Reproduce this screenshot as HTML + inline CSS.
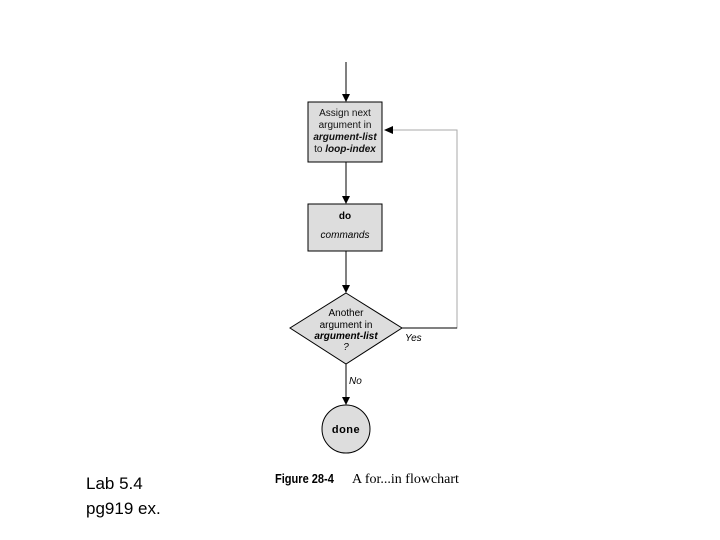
<!DOCTYPE html>
<html><head><style>
body{margin:0;width:720px;height:540px;background:#fff;overflow:hidden;position:relative;font-family:"Liberation Sans",sans-serif}
</style></head><body>
<svg width="720" height="540" style="position:absolute;left:0;top:0" font-family="Liberation Sans, sans-serif">
<defs><marker id="a" markerWidth="8" markerHeight="8" refX="7" refY="4" orient="auto" markerUnits="userSpaceOnUse"><path d="M0,0 L8,4 L0,8 z" fill="#000"/></marker></defs>
<line x1="346" y1="62" x2="346" y2="101" stroke="#000" marker-end="url(#a)"/>
<rect x="308" y="102" width="74" height="60" fill="#ddd" stroke="#000"/>
<text font-size="10" text-anchor="middle" fill="#111"><tspan x="345" y="116">Assign next</tspan><tspan x="345" y="128">argument in</tspan><tspan x="345" y="140" font-style="italic" font-weight="bold">argument-list</tspan><tspan x="345" y="152">to <tspan font-style="italic" font-weight="bold">loop-index</tspan></tspan></text>
<line x1="346" y1="162" x2="346" y2="203" stroke="#000" marker-end="url(#a)"/>
<rect x="308" y="204" width="74" height="47" fill="#ddd" stroke="#000"/>
<text x="345" y="219" font-size="10" font-weight="bold" text-anchor="middle">do</text>
<text x="345" y="238" font-size="10" font-style="italic" text-anchor="middle">commands</text>
<line x1="346" y1="251" x2="346" y2="292" stroke="#000" marker-end="url(#a)"/>
<polygon points="346,293 402,328 346,364 290,328" fill="#ddd" stroke="#000"/>
<text font-size="10" text-anchor="middle"><tspan x="346" y="316">Another</tspan><tspan x="346" y="328">argument in</tspan><tspan x="346" y="339" font-style="italic" font-weight="bold">argument-list</tspan><tspan x="346" y="350" font-style="italic">?</tspan></text>
<polyline points="402,328 457,328 457,130 386,130" fill="none" stroke="#aaa"/>
<line x1="402" y1="328" x2="457" y2="328" stroke="#000"/>
<path d="M384,130 L393,126 L393,134 z" fill="#000"/>
<text x="405" y="341" font-size="10" font-style="italic">Yes</text>
<line x1="346" y1="364" x2="346" y2="404" stroke="#000" marker-end="url(#a)"/>
<text x="349" y="384" font-size="10" font-style="italic">No</text>
<circle cx="346" cy="429" r="24" fill="#ddd" stroke="#000"/>
<text x="346" y="433" font-size="11" font-weight="bold" text-anchor="middle" letter-spacing="0.5">done</text>
<text x="275" y="483" font-size="13" font-weight="bold" transform="translate(275,0) scale(0.85,1) translate(-275,0)">Figure 28-4</text>
<text x="352" y="483" font-size="14" font-family="Liberation Serif, serif">A for...in flowchart</text>
<text x="86" y="489" font-size="17">Lab 5.4</text>
<text x="86" y="514" font-size="17">pg919 ex.</text>
</svg>
</body></html>
